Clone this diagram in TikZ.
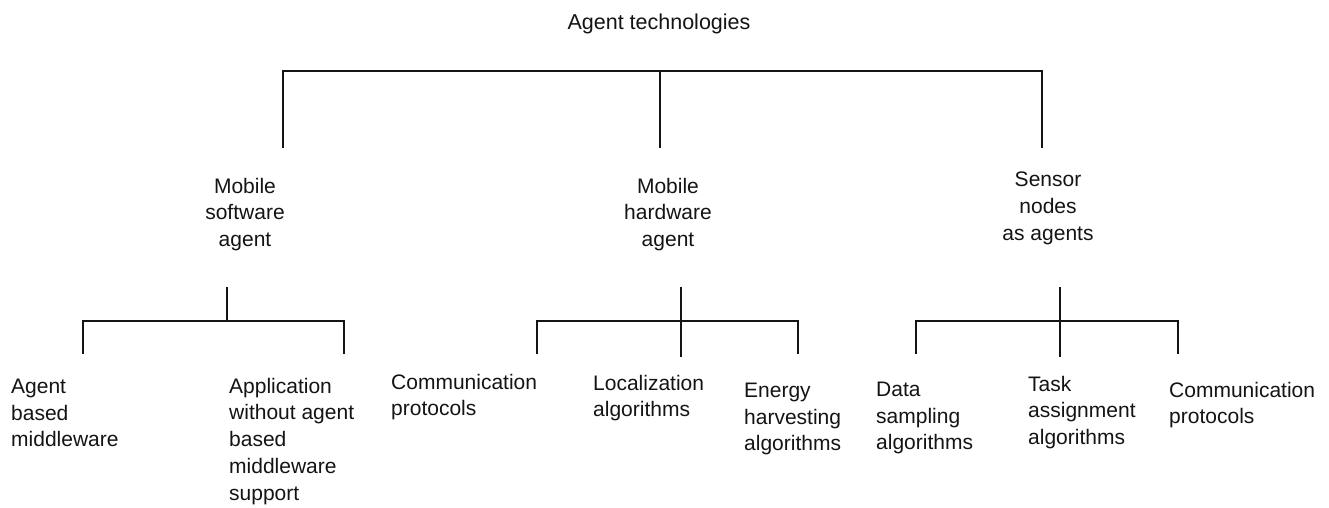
\documentclass[tikz,border=0pt]{standalone}
\usepackage{fontspec}
\setmainfont{Liberation Sans}
\begin{document}
\begin{tikzpicture}[x=1pt,y=-1pt,
  lbl/.style={inner sep=0pt, font=\fontsize{21}{26.8}\selectfont, anchor=north west, align=left, text=black!92},
  clbl/.style={inner sep=0pt, font=\fontsize{21}{26.8}\selectfont, anchor=north, align=center, text=black!92},
  tree/.style={line width=2.5pt, line join=miter, draw=black!92}]
\useasboundingbox (0,0) rectangle (1329,508);
\fill[white] (0,0) rectangle (1329,508);
% titles
\node[inner sep=0pt, font=\fontsize{21.5}{27}\selectfont, anchor=base, text=black!92] (root) at (659,30) {Agent technologies};
\node[clbl] (sw) at (245,177.7) {Mobile\\software\\agent};
\node[clbl] (hw) at (668,177.7) {Mobile\\hardware\\agent};
\node[clbl] (sn) at (1048,171.7) {Sensor\\nodes\\as agents};
% leaves
\node[lbl] (abm) at (11,378.7) {Agent\\based\\middleware};
\node[lbl] (app) at (229,377.7) {Application\\without agent\\based\\middleware\\support};
\node[lbl] (cp1) at (391,373.7) {Communication\\protocols};
\node[lbl] (loc) at (593,374.7) {Localization\\algorithms};
\node[lbl] (eha) at (744,382.7) {Energy\\harvesting\\algorithms};
\node[lbl] (dsa) at (876,381.7) {Data\\sampling\\algorithms};
\node[lbl] (taa) at (1028,375.7) {Task\\assignment\\algorithms};
\node[lbl] (cp2) at (1169,381.7) {Communication\\protocols};
% top bracket
\coordinate (rL) at (283,71);
\coordinate (rM) at (660,71);
\coordinate (rR) at (1042,71);
\coordinate (rLb) at (283,148);
\coordinate (rMb) at (660,148);
\coordinate (rRb) at (1042,148);
\draw[tree] (rLb) -- (rL) -- (rR) -- (rRb);
\draw[tree] (rM) -- (rMb);
% software bracket
\coordinate (s0) at (227,287);
\coordinate (s1) at (227,321);
\coordinate (sL) at (83,321);
\coordinate (sLb) at (83,354);
\coordinate (sR) at (344,321);
\coordinate (sRb) at (344,354);
\draw[tree] (sLb) -- (sL) -- (sR) -- (sRb);
\draw[tree] (s0) -- (s1);
% hardware bracket
\coordinate (h0) at (681,287);
\coordinate (h1) at (681,357);
\coordinate (hL) at (537,321);
\coordinate (hLb) at (537,354);
\coordinate (hR) at (798,321);
\coordinate (hRb) at (798,354);
\draw[tree] (hLb) -- (hL) -- (hR) -- (hRb);
\draw[tree] (h0) -- (h1);
% sensor bracket
\coordinate (n0) at (1060,287);
\coordinate (n1) at (1060,357);
\coordinate (nL) at (916,321);
\coordinate (nLb) at (916,354);
\coordinate (nR) at (1178,321);
\coordinate (nRb) at (1178,354);
\draw[tree] (nLb) -- (nL) -- (nR) -- (nRb);
\draw[tree] (n0) -- (n1);
\end{tikzpicture}
\end{document}
